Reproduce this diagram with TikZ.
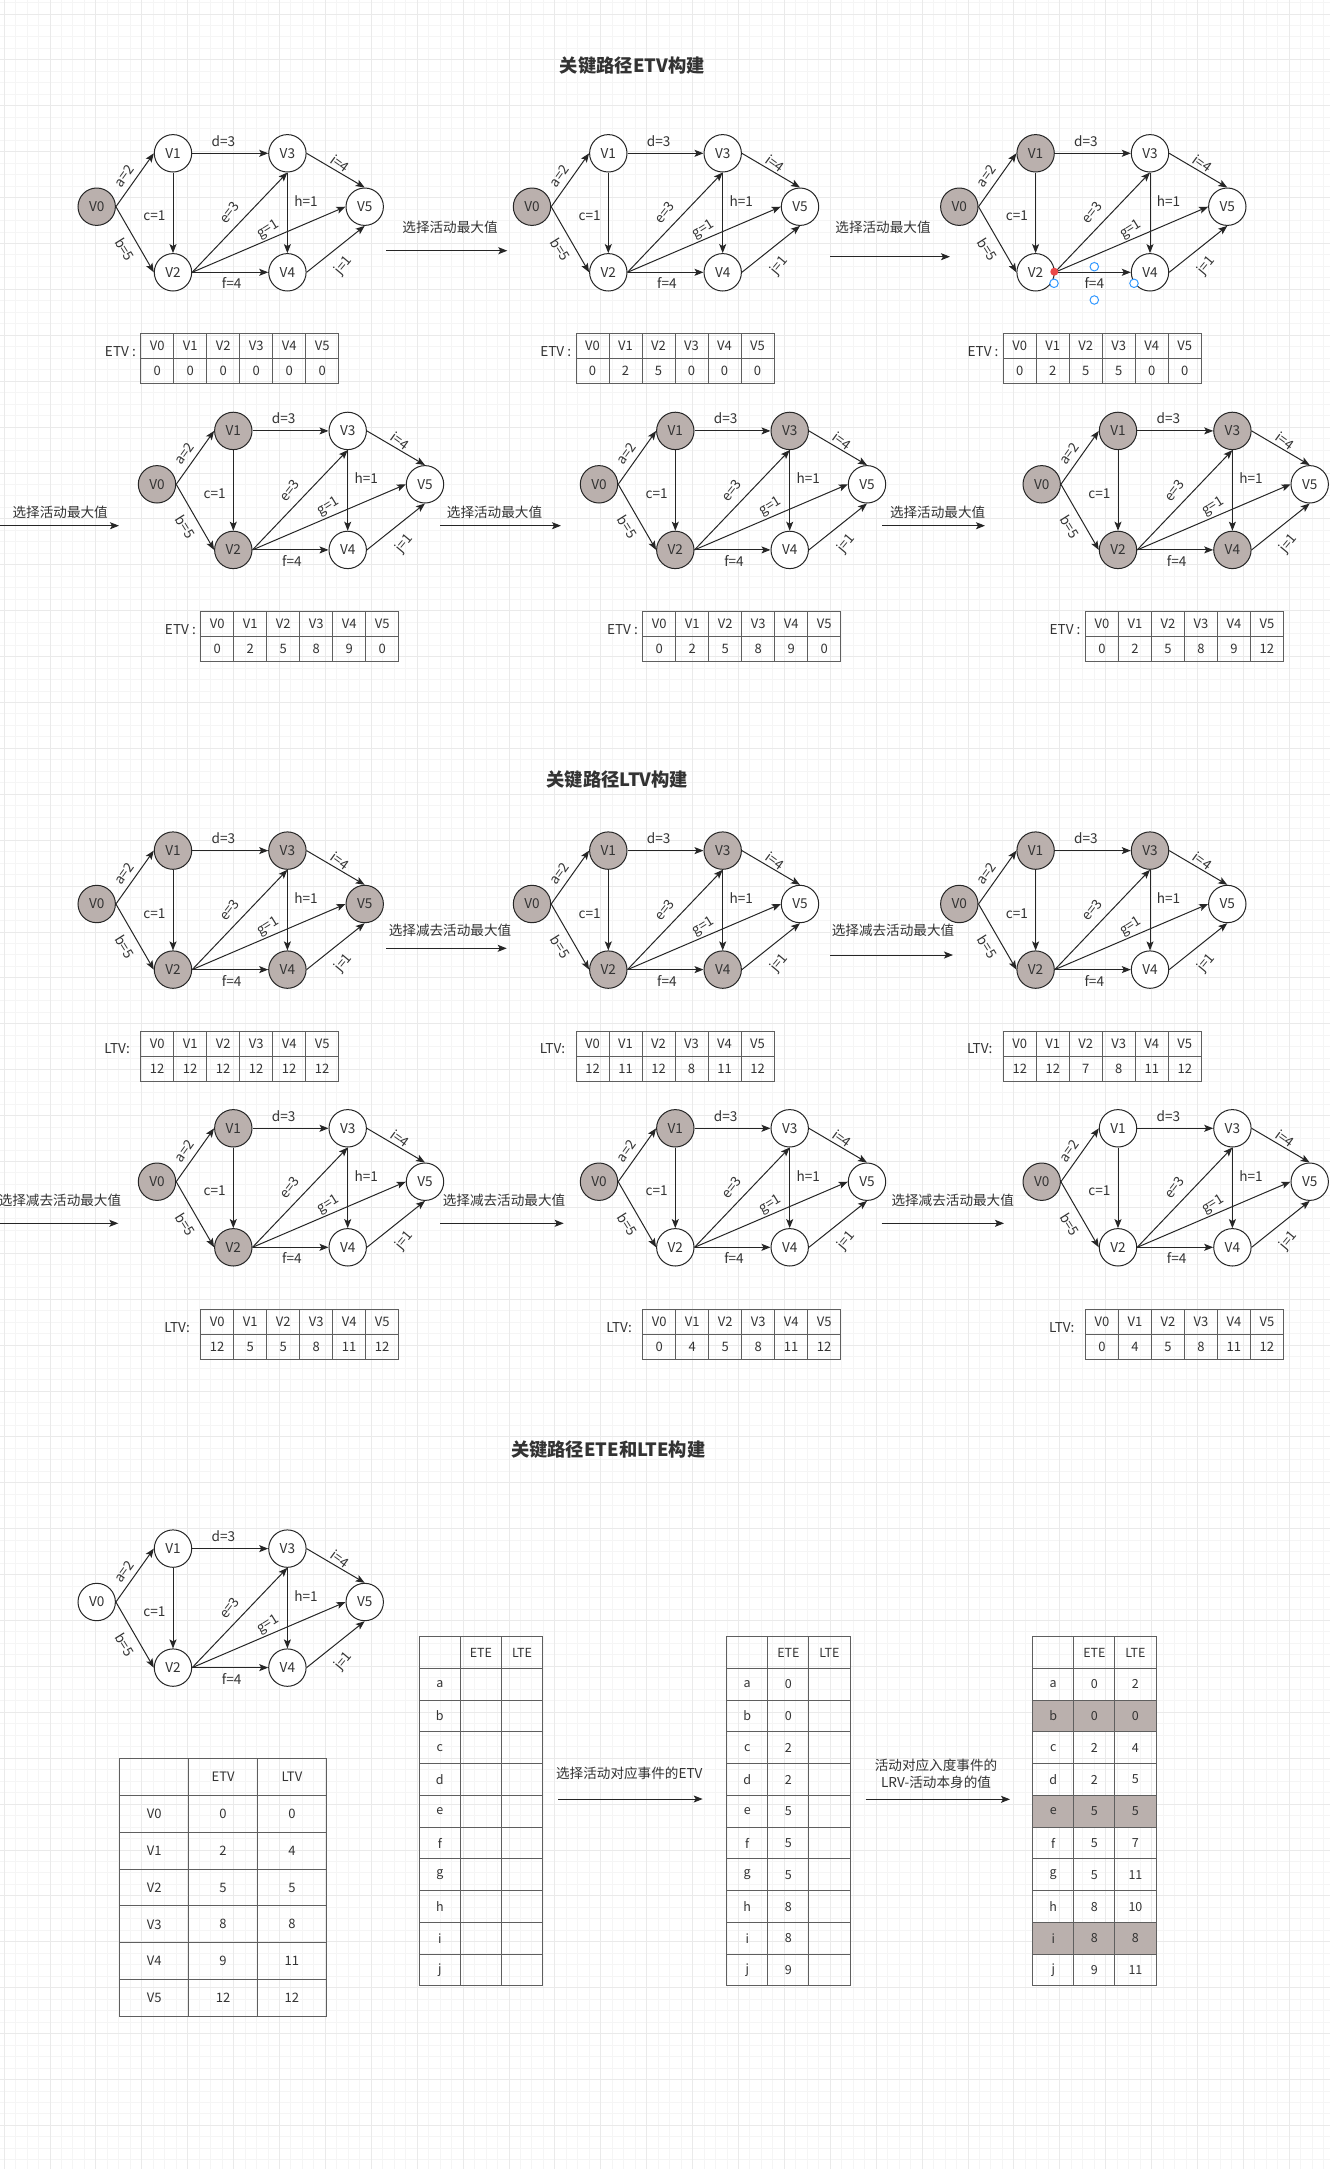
\documentclass[tikz,border=0pt]{standalone}
\usepackage{fontspec}
\setmainfont{Noto Sans CJK SC}
\usetikzlibrary{arrows.meta}
\definecolor{ngray}{RGB}{186,176,173}
\definecolor{txt}{RGB}{51,51,51}
\definecolor{tline}{RGB}{95,95,95}
\definecolor{gmin}{RGB}{245,245,245}
\definecolor{gmaj}{RGB}{234,234,234}
\definecolor{selblue}{RGB}{51,153,255}
\definecolor{selred}{RGB}{234,72,72}
\tikzset{
 vnode/.style={circle,draw=black!85,line width=1pt,minimum size=37.4pt,inner sep=0pt,font=\fontsize{13.6}{16}\selectfont,text=txt},
 vw/.style={vnode,fill=white},
 vg/.style={vnode,fill=ngray},
 edge/.style={draw=black!85,line width=1pt,-{Stealth[length=9pt,width=7pt,inset=2pt]}},
 elab/.style={font=\fontsize{13.6}{16}\selectfont,text=txt,inner sep=0pt},
 flow/.style={draw=black!85,line width=1pt,-{Stealth[length=9pt,width=7pt,inset=2pt]}},
 flab/.style={font=\fontsize{13.6}{17}\selectfont,text=txt,inner sep=0pt,align=center},
 ttl/.style={font=\fontsize{18.3}{22}\selectfont\bfseries,text=txt},
 tcell/.style={font=\fontsize{13}{15}\selectfont,text=txt,inner sep=0pt},
 acell/.style={font=\fontsize{12.5}{15}\selectfont,text=txt,inner sep=0pt},
 tbl/.style={draw=tline,line width=1pt},
 tlab/.style={font=\fontsize{13.6}{16}\selectfont,text=txt,inner sep=0pt,anchor=east},
 selh/.style={circle,draw=selblue,fill=white,line width=1pt,minimum size=8.5pt,inner sep=0pt},
}
% vertex table: #1 name, #2 x, #3 y, #4-#9 values
\newcommand\vtab[9]{%
  \foreach \k/\val in {0/#4,1/#5,2/#6,3/#7,4/#8,5/#9}{%
    \node[tcell] (#1h\k) at ({#2+33*\k+16.5},{#3+12.5}) {V\k};
    \node[tcell] (#1v\k) at ({#2+33*\k+16.5},{#3+37.5}) {\val};
  }%
  \draw[tbl] (#2,#3) rectangle ({#2+198},{#3+50});
  \draw[tbl] (#2,{#3+25}) -- ({#2+198},{#3+25});
  \foreach \k in {1,...,5}{\draw[tbl] ({#2+33*\k},#3) -- ({#2+33*\k},{#3+50});}%
}
% graph: #1 prefix, #2 x, #3 y, #4-#9 styles of V0..V5
\newcommand\mkgraph[9]{%
\begin{scope}[shift={(#2,#3)}]
\node[#4] (#1V0) at (0,0) {V0};
\node[#5] (#1V1) at (76.3,-53.4) {V1};
\node[#6] (#1V2) at (76.3,65.6) {V2};
\node[#7] (#1V3) at (190.7,-53.4) {V3};
\node[#8] (#1V4) at (190.7,65.6) {V4};
\node[#9] (#1V5) at (268,0) {V5};
\draw[edge] (#1V0.east) -- (#1V1.west);
\draw[edge] (#1V0.east) -- (#1V2.west);
\draw[edge] (#1V1.south) -- (#1V2.north);
\draw[edge] (#1V1.east) -- (#1V3.west);
\draw[edge] (#1V2.east) -- (#1V3.south);
\draw[edge] (#1V2.east) -- (#1V4.west);
\draw[edge] (#1V2.east) -- (#1V5.west);
\draw[edge] (#1V3.south) -- (#1V4.north);
\draw[edge] (#1V3.east) -- (#1V5.north);
\draw[edge] (#1V4.east) -- (#1V5.south);
\node[elab,rotate=54] (#1la) at (27.3,-30.7) {a=2};
\node[elab,rotate=-58] (#1lb) at (28.3,42.7) {b=5};
\node[elab] (#1lc) at (57.7,9.3) {c=1};
\node[elab] (#1ld) at (126.7,-65.7) {d=3};
\node[elab,rotate=52] (#1le) at (132.7,6) {e=3};
\node[elab] (#1lf) at (135,76.7) {f=4};
\node[elab,rotate=32] (#1lg) at (171.7,22.7) {g=1};
\node[elab] (#1lh) at (209.3,-6) {h=1};
\node[elab,rotate=-36] (#1li) at (243.3,-43.3) {i=4};
\node[elab,rotate=50] (#1lj) at (247.3,59.3) {j=1};
\end{scope}}
% activity table: #1 x, #2 rows r/letter/ete/lte/shade
\newcommand\atab[2]{%
  \foreach \r/\lt/\ee/\ll/\sh in {#2}{%
    \ifnum\sh=1 \fill[ngray] (#1,{1636.7+31.75*\r}) rectangle ({#1+123.3},{1636.7+31.75*(\r+1)});\fi
    \node[acell] at ({#1+20.55},{1636.7+31.75*(\r+0.5)}) {\lt};
    \node[acell] at ({#1+61.65},{1636.7+31.75*(\r+0.5)}) {\ee};
    \node[acell] at ({#1+102.75},{1636.7+31.75*(\r+0.5)}) {\ll};
  }%
  \node[acell] at ({#1+61.65},{1636.7+15.9}) {ETE};
  \node[acell] at ({#1+102.75},{1636.7+15.9}) {LTE};
  \draw[tbl] (#1,1636.7) rectangle ({#1+123.3},{1636.7+31.75*11});
  \foreach \k in {1,2}{\draw[tbl] ({#1+41.1*\k},1636.7) -- ({#1+41.1*\k},{1636.7+31.75*11});}%
  \foreach \r in {1,...,10}{\draw[tbl] (#1,{1636.7+31.75*\r}) -- ({#1+123.3},{1636.7+31.75*\r});}%
}
\begin{document}
\begin{tikzpicture}[x=1pt,y=-1pt]
\useasboundingbox (0,0) rectangle (1330,2169);
\fill[white] (0,0) rectangle (1330,2169);
% background grid
\foreach \i in {0,...,115}{\draw[gmin,line width=1pt] ({4.1+11.475*\i},0) -- ({4.1+11.475*\i},2169);}
\foreach \j in {0,...,188}{\draw[gmin,line width=1pt] (0,{2.525+11.475*\j}) -- (1330,{2.525+11.475*\j});}
\foreach \i in {0,4,...,112}{\draw[gmaj,line width=1pt] ({4.1+11.475*\i},0) -- ({4.1+11.475*\i},2169);}
\foreach \j in {1,5,...,185}{\draw[gmaj,line width=1pt] (0,{2.525+11.475*\j}) -- (1330,{2.525+11.475*\j});}

% ================= Section 1: ETV =================
\node[ttl] (t1) at (632.3,66) {关键路径ETV构建};
\mkgraph{a}{96.7}{206.7}{vg}{vw}{vw}{vw}{vw}{vw}
\mkgraph{b}{532}{206.7}{vg}{vw}{vw}{vw}{vw}{vw}
\mkgraph{c}{959.3}{206.7}{vg}{vg}{vw}{vw}{vw}{vw}
\node[circle,fill=selred,minimum size=8pt,inner sep=0pt] (selR) at (1054.3,271.7) {};
\node[selh] (selB1) at (1094.3,266.7) {};
\node[selh] (selB2) at (1054,283.3) {};
\node[selh] (selB3) at (1094.3,300) {};
\node[selh] (selB4) at (1134,283.3) {};
\vtab{ta}{140.7}{333.3}{0}{0}{0}{0}{0}{0}
\vtab{tb}{576}{333.3}{0}{2}{5}{0}{0}{0}
\vtab{tc}{1003.3}{333.3}{0}{2}{5}{5}{0}{0}
\node[tlab] (la) at (136,351.8) {ETV :};
\node[tlab] (lb) at (571.3,351.8) {ETV :};
\node[tlab] (lc) at (998.6,351.8) {ETV :};
\coordinate (p1s) at (386,250.7); \coordinate (p1e) at (507.3,250.7);
\draw[flow] (p1s) -- (p1e);
\node[flab] (f1) at (450,227.3) {选择活动最大值};
\coordinate (p2s) at (830,256.7); \coordinate (p2e) at (950,256.7);
\draw[flow] (p2s) -- (p2e);
\node[flab] (f2) at (883,227) {选择活动最大值};

\mkgraph{d}{157}{484.3}{vg}{vg}{vg}{vw}{vw}{vw}
\mkgraph{e}{599}{484.3}{vg}{vg}{vg}{vg}{vw}{vw}
\mkgraph{f}{1041.7}{484.3}{vg}{vg}{vg}{vg}{vg}{vw}
\vtab{td}{200.7}{611}{0}{2}{5}{8}{9}{0}
\vtab{te}{642.7}{611}{0}{2}{5}{8}{9}{0}
\vtab{tf}{1085.4}{611}{0}{2}{5}{8}{9}{12}
\node[tlab] (ld) at (196,629.5) {ETV :};
\node[tlab] (le) at (638,629.5) {ETV :};
\node[tlab] (lf) at (1080.7,629.5) {ETV :};
\coordinate (p3s) at (0,525.7); \coordinate (p3e) at (119,525.7);
\draw[flow] (p3s) -- (p3e);
\node[flab] (f3) at (60.2,512.7) {选择活动最大值};
\coordinate (p4s) at (440,525.7); \coordinate (p4e) at (561,525.7);
\draw[flow] (p4s) -- (p4e);
\node[flab] (f4) at (494.5,512.7) {选择活动最大值};
\coordinate (p5s) at (882,525.7); \coordinate (p5e) at (985,525.7);
\draw[flow] (p5s) -- (p5e);
\node[flab] (f5) at (937.6,512.7) {选择活动最大值};

% ================= Section 2: LTV =================
\node[ttl] (t2) at (617.3,780) {关键路径LTV构建};
\mkgraph{g}{96.7}{904}{vg}{vg}{vg}{vg}{vg}{vg}
\mkgraph{h}{532}{904}{vg}{vg}{vg}{vg}{vg}{vw}
\mkgraph{i}{959.3}{904}{vg}{vg}{vg}{vg}{vw}{vw}
\vtab{tg}{140.7}{1031}{12}{12}{12}{12}{12}{12}
\vtab{th}{576}{1031}{12}{11}{12}{8}{11}{12}
\vtab{ti}{1003.3}{1031}{12}{12}{7}{8}{11}{12}
\node[tlab] (lg) at (130,1049) {LTV:};
\node[tlab] (lh) at (565.3,1049) {LTV:};
\node[tlab] (li) at (992.6,1049) {LTV:};
\coordinate (q1s) at (386,948.3); \coordinate (q1e) at (506.7,948.3);
\draw[flow] (q1s) -- (q1e);
\node[flab] (g1) at (450,930) {选择减去活动最大值};
\coordinate (q2s) at (830,955); \coordinate (q2e) at (953,955);
\draw[flow] (q2s) -- (q2e);
\node[flab] (g2) at (893,930.7) {选择减去活动最大值};

\mkgraph{j}{157}{1181.7}{vg}{vg}{vg}{vw}{vw}{vw}
\mkgraph{k}{599}{1181.7}{vg}{vg}{vw}{vw}{vw}{vw}
\mkgraph{l}{1041.7}{1181.7}{vg}{vw}{vw}{vw}{vw}{vw}
\vtab{tj}{200.7}{1309.5}{12}{5}{5}{8}{11}{12}
\vtab{tk}{642.7}{1309.5}{0}{4}{5}{8}{11}{12}
\vtab{tl}{1085.4}{1309.5}{0}{4}{5}{8}{11}{12}
\node[tlab] (lj) at (190,1327.5) {LTV:};
\node[tlab] (lk) at (632,1327.5) {LTV:};
\node[tlab] (ll) at (1074.7,1327.5) {LTV:};
\coordinate (q3s) at (0,1223.3); \coordinate (q3e) at (118.3,1223.3);
\draw[flow] (q3s) -- (q3e);
\node[flab] (g3) at (60,1200) {选择减去活动最大值};
\coordinate (q4s) at (440,1223.3); \coordinate (q4e) at (563.7,1223.3);
\draw[flow] (q4s) -- (q4e);
\node[flab] (g4) at (504,1200.8) {选择减去活动最大值};
\coordinate (q5s) at (881.7,1223.3); \coordinate (q5e) at (1004,1223.3);
\draw[flow] (q5s) -- (q5e);
\node[flab] (g5) at (952.7,1200) {选择减去活动最大值};

% ================= Section 3: ETE / LTE =================
\node[ttl] (t3) at (608.3,1450) {关键路径ETE和LTE构建};
\mkgraph{m}{96.7}{1602}{vw}{vw}{vw}{vw}{vw}{vw}
% ETV/LTV table
\foreach \r/\nm/\ea/\la in {1/V0/0/0,2/V1/2/4,3/V2/5/5,4/V3/8/8,5/V4/9/11,6/V5/12/12}{%
  \node[tcell] (sv\r) at ({119.7+34.45},{1758.7+36.8*(\r+0.5)}) {\nm};
  \node[tcell] (se\r) at ({119.7+103.35},{1758.7+36.8*(\r+0.5)}) {\ea};
  \node[tcell] (sl\r) at ({119.7+172.25},{1758.7+36.8*(\r+0.5)}) {\la};
}
\node[tcell] (sETV) at ({119.7+103.35},{1758.7+18.4}) {ETV};
\node[tcell] (sLTV) at ({119.7+172.25},{1758.7+18.4}) {LTV};
\draw[tbl] (119.7,1758.7) rectangle ({119.7+206.7},{1758.7+36.8*7});
\foreach \k in {1,2}{\draw[tbl] ({119.7+68.9*\k},1758.7) -- ({119.7+68.9*\k},{1758.7+36.8*7});}
\foreach \r in {1,...,6}{\draw[tbl] (119.7,{1758.7+36.8*\r}) -- ({119.7+206.7},{1758.7+36.8*\r});}
% activity tables
\atab{419.3}{1/a/{}/{}/0,2/b/{}/{}/0,3/c/{}/{}/0,4/d/{}/{}/0,5/e/{}/{}/0,6/f/{}/{}/0,7/g/{}/{}/0,8/h/{}/{}/0,9/i/{}/{}/0,10/j/{}/{}/0}
\atab{726.7}{1/a/0/{}/0,2/b/0/{}/0,3/c/2/{}/0,4/d/2/{}/0,5/e/5/{}/0,6/f/5/{}/0,7/g/5/{}/0,8/h/8/{}/0,9/i/8/{}/0,10/j/9/{}/0}
\atab{1032.7}{1/a/0/2/0,2/b/0/0/1,3/c/2/4/0,4/d/2/5/0,5/e/5/5/1,6/f/5/7/0,7/g/5/11/0,8/h/8/10/0,9/i/8/8/1,10/j/9/11/0}
\coordinate (r1s) at (558.3,1799); \coordinate (r1e) at (702.7,1799);
\draw[flow] (r1s) -- (r1e);
\node[flab] (h1) at (629.3,1773.3) {选择活动对应事件的ETV};
\coordinate (r2s) at (865.7,1799.3); \coordinate (r2e) at (1010,1799.3);
\draw[flow] (r2s) -- (r2e);
\node[flab] (h2) at (936,1773.4) {活动对应入度事件的\\LRV-活动本身的值};
\end{tikzpicture}
\end{document}
